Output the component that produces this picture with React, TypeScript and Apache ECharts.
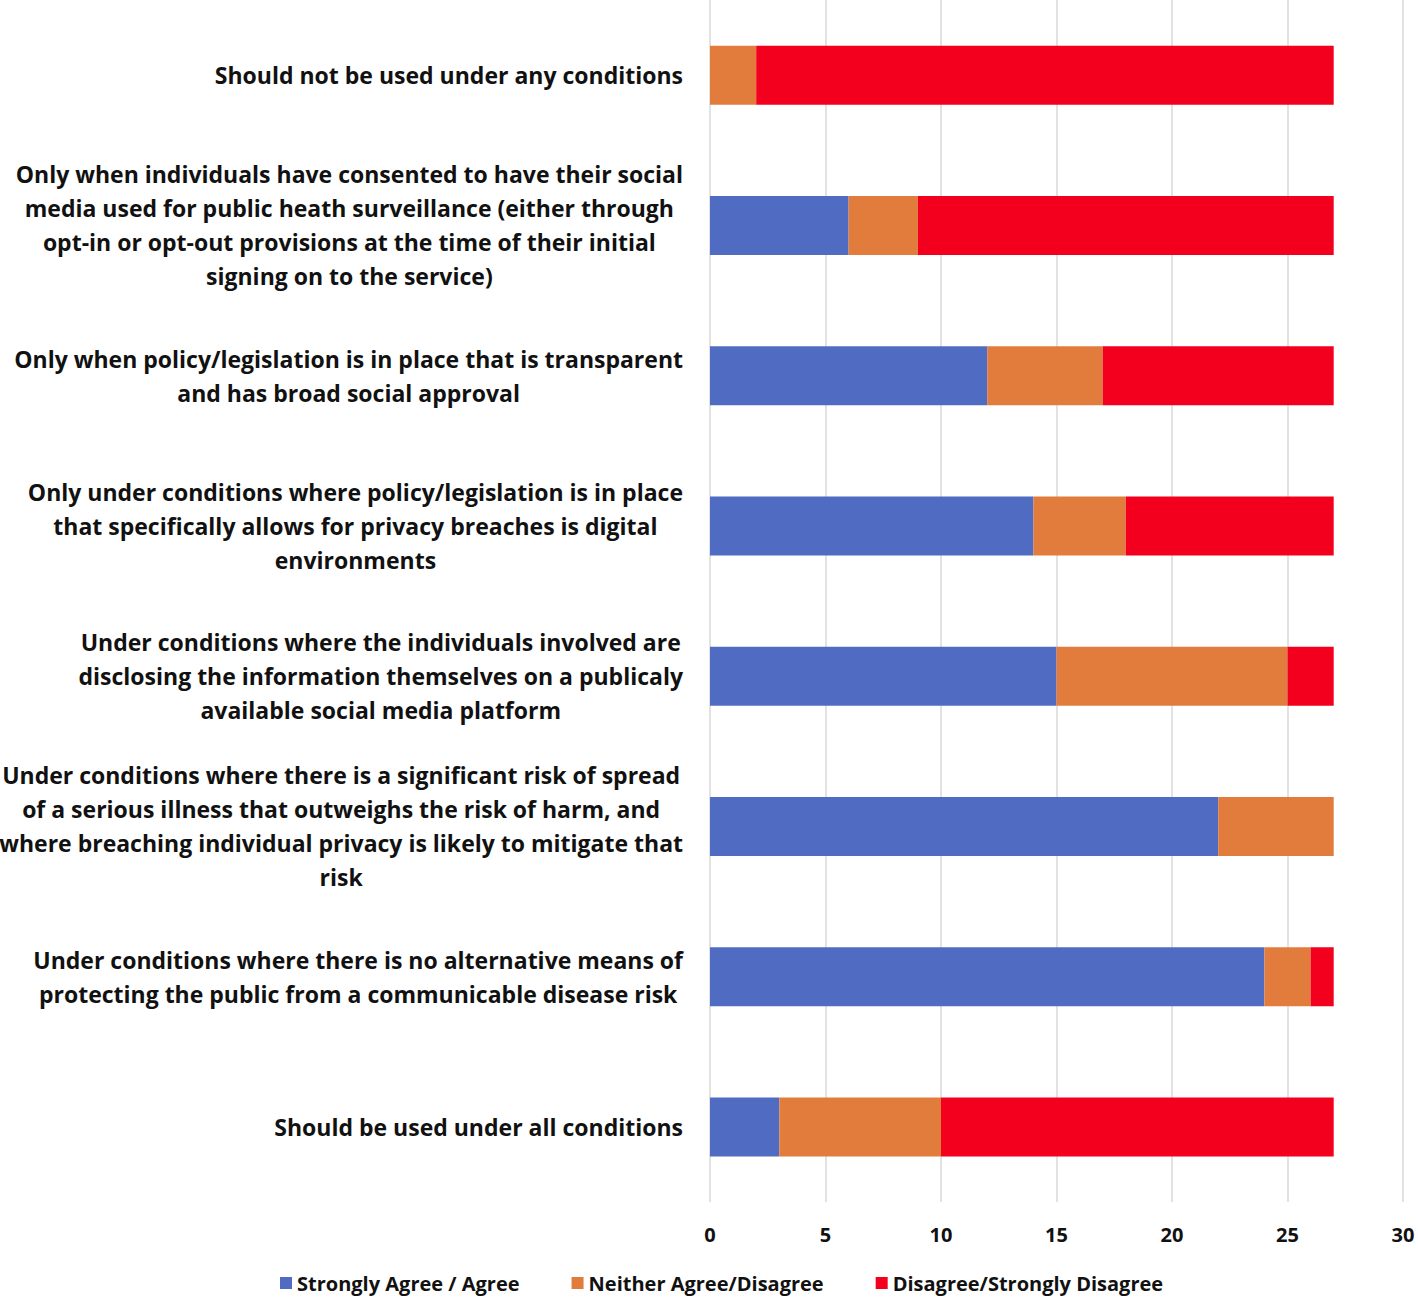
import React, { useEffect, useRef } from "react";
import * as echarts from "echarts";

const categories: string[] = [
  "Should not be used under any conditions",
  "Only when individuals have consented to have their social\nmedia used for public heath surveillance (either through\nopt-in or opt-out provisions at the time of their initial\nsigning on to the service)",
  "Only when policy/legislation is in place that is transparent\nand has broad social approval",
  "Only under conditions where policy/legislation is in place\nthat specifically allows for privacy breaches is digital\nenvironments",
  "Under conditions where the individuals involved are\ndisclosing the information themselves on a publicaly\navailable social media platform",
  "Under conditions where there is a significant risk of spread\nof a serious illness that outweighs the risk of harm, and\nwhere breaching individual privacy is likely to mitigate that\nrisk",
  "Under conditions where there is no alternative means of\nprotecting the public from a communicable disease risk",
  "Should be used under all conditions",
];

const seriesNames: string[] = [
  "Strongly Agree / Agree",
  "Neither Agree/Disagree",
  "Disagree/Strongly Disagree",
];

const agree: number[] = [0, 6, 12, 14, 15, 22, 24, 3];
const neither: number[] = [2, 3, 5, 4, 10, 5, 2, 7];
const disagree: number[] = [25, 18, 10, 9, 2, 0, 1, 17];

const colors: string[] = ["#4F6CC2", "#E17C3C", "#F2001E"];

const FONT = "'Open Sans', Lato, sans-serif";

export default function App() {
  const ref = useRef<HTMLDivElement>(null);
  useEffect(() => {
    if (!ref.current) return;
    const chart = echarts.init(ref.current, null, { renderer: "svg" });
    const values = [agree, neither, disagree];
    chart.setOption({
      animation: false,
      backgroundColor: "#ffffff",
      textStyle: { fontFamily: FONT },
      grid: {
        left: 710,
        right: 15,
        top: 0,
        bottom: 97,
        containLabel: false,
        outerBoundsMode: "none",
      },
      legend: {
        bottom: 1,
        left: 275,
        icon: "rect",
        itemWidth: 12,
        itemHeight: 12,
        itemGap: 52,
        data: seriesNames,
        textStyle: { fontFamily: FONT, fontWeight: "bold", fontSize: 20, color: "#111" },
      },
      xAxis: {
        type: "value",
        min: 0,
        max: 30,
        interval: 5,
        axisLine: { show: false },
        axisTick: { show: false },
        splitLine: { show: true, lineStyle: { color: "#D9D9D9", width: 1.5 } },
        axisLabel: {
          margin: 22,
          fontFamily: FONT,
          fontWeight: "bold",
          fontSize: 20,
          color: "#111",
        },
      },
      yAxis: {
        type: "category",
        inverse: true,
        data: categories,
        axisLine: { show: false },
        axisTick: { show: false },
        splitLine: { show: false },
        axisLabel: {
          margin: 27,
          align: "right",
          formatter: (v: string) =>
            v
              .split("\n")
              .map((l) => "{c|" + l + "}")
              .join("\n"),
          rich: {
            c: {
              align: "center",
              fontFamily: FONT,
              fontWeight: "bold",
              fontSize: 23,
              lineHeight: 34,
              color: "#111",
            },
          },
        },
      },
      series: seriesNames.map((name, i) => ({
        name,
        type: "bar",
        stack: "total",
        barWidth: 59,
        data: values[i],
        itemStyle: { color: colors[i] },
      })),
    });
    return () => chart.dispose();
  }, []);
  return (
    <div
      ref={ref}
      style={{ position: "fixed", left: 0, top: 0, width: 1418, height: 1299 }}
    />
  );
}
